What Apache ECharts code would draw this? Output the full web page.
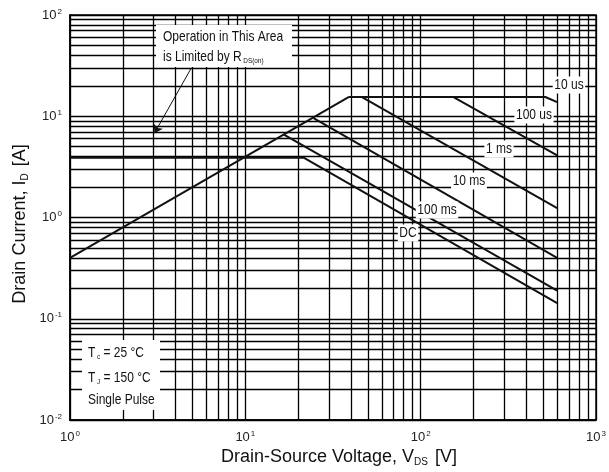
<!DOCTYPE html>
<html>
<head>
<meta charset="utf-8">
<script src="https://cdn.jsdelivr.net/npm/echarts@6/dist/echarts.min.js"></script>
<style>
  html, body { margin: 0; padding: 0; background: #fff; }
  #chart { width: 609px; height: 472px; }
</style>
</head>
<body>
<div id="chart"></div>
<script>
// safe operating area, V_DS [V] against I_D [A]
const rdsV = [1, 39];
const rdsI = [0.4, 15.5];
const us10V = [39, 514, 600];
const us10I = [15.5, 15.5, 13.8];
const us100V = [153, 600];
const us100I = [15.5, 4.1];
const ms1V = [46, 600];
const ms1I = [15.5, 1.24];
const ms10V = [24.5, 600];
const ms10I = [9.6, 0.4];
const ms100V = [16.6, 600];
const ms100I = [6.6, 0.19];
const dcV = [1, 21.5, 600];
const dcI = [3.9, 3.9, 0.143];

const xDecades = [1, 10, 100];
const yDecades = [0.01, 0.1, 1, 10];
const minorSteps = [2, 3, 4, 5, 6, 7, 8, 9];

const FONT = 'Liberation Sans, Arial, sans-serif';
const NARROW = 0.8; // no narrow font installed, squeeze the labels instead

function pairs(xs, ys) {
  return xs.map((x, i) => [x, ys[i]]);
}

// minor grid values 2..9 in every decade
var xMinor = [], yMinor = [];
xDecades.forEach(d => minorSteps.forEach(s => xMinor.push(+(d * s).toPrecision(3))));
yDecades.forEach(d => minorSteps.forEach(s => yMinor.push(+(d * s).toPrecision(3))));

var chart = echarts.init(document.getElementById('chart'));

function curve(name, xs, ys, extra) {
  var s = {
    name: name,
    type: 'line',
    data: pairs(xs, ys),
    symbol: 'none',
    lineStyle: { color: '#111', width: 2 },
    z: 5,
    silent: true,
  };
  return Object.assign(s, extra || {});
}

// narrow note text
function note(x, y, text, align) {
  return {
    type: 'text', x: x, y: y, z: 21, scaleX: NARROW,
    style: {
      text: text, font: '15px ' + FONT, fill: '#111',
      align: align || 'left', verticalAlign: 'middle',
      rich: { sub: { fontSize: 8, fontFamily: FONT, fill: '#111', padding: [8, 0, 0, 2] } },
    },
  };
}

function curveLabel(x, y, text) {
  var t = note(x, y, text, 'center');
  t.style.backgroundColor = '#fff';
  t.style.padding = [1, 2];
  return t;
}

var supLabel = {
  fontFamily: FONT,
  color: '#222',
  formatter: v => '{b|10}{s|' + Math.round(Math.log10(v)) + '}',
  rich: {
    b: { fontSize: 13, fontFamily: FONT, color: '#222' },
    s: { fontSize: 8, fontFamily: FONT, color: '#222', verticalAlign: 'top', padding: [0, 0, 7, 1] },
  },
};

var option = {
  animation: false,
  grid: {
    left: 70, right: 10, top: 15, bottom: 52,
    show: true, borderColor: '#000', borderWidth: 1.5,
  },
  xAxis: {
    type: 'log', logBase: 10, min: 1, max: 1000,
    axisLine: { lineStyle: { color: '#000', width: 1.5 } },
    axisTick: { show: false },
    splitLine: { show: true, lineStyle: { color: '#000', width: 1.3 } },
    axisLabel: Object.assign({ margin: 10 }, supLabel),
  },
  yAxis: {
    type: 'log', logBase: 10, min: 0.01, max: 100,
    axisLine: { lineStyle: { color: '#000', width: 1.5 } },
    axisTick: { show: false },
    splitLine: { show: true, lineStyle: { color: '#000', width: 1.3 } },
    axisLabel: Object.assign({ margin: 8 }, supLabel),
  },
  series: [
    {
      name: 'grid',
      type: 'line',
      data: [],
      silent: true,
      z: 1,
      markLine: {
        silent: true,
        symbol: ['none', 'none'],
        label: { show: false },
        lineStyle: { color: '#000', width: 1.3, type: 'solid' },
        data: xMinor.map(v => ({ xAxis: v })).concat(yMinor.map(v => ({ yAxis: v }))),
      },
    },
    curve('RDS(on)', rdsV, rdsI, {
      markLine: {
        silent: true,
        symbol: ['none', 'arrow'],
        symbolSize: 8,
        label: { show: false },
        lineStyle: { color: '#111', width: 1, type: 'solid' },
        data: [[{ coord: [4.92, 30] }, { coord: [3.03, 6.8] }]],
      },
    }),
    curve('10 us', us10V, us10I),
    curve('100 us', us100V, us100I),
    curve('1 ms', ms1V, ms1I),
    curve('10 ms', ms10V, ms10I),
    curve('100 ms', ms100V, ms100I),
    curve('DC', dcV, dcI),
  ],
  graphic: [
    // RDS(on) note
    { type: 'rect', shape: { x: 156, y: 25, width: 136, height: 42 }, style: { fill: '#fff' }, z: 20 },
    note(163, 37, 'Operation in This Area'),
    note(163, 57, 'is Limited by R{sub|DS(on)}'),
    // conditions
    { type: 'rect', shape: { x: 82, y: 340, width: 78, height: 70 }, style: { fill: '#fff' }, z: 20 },
    note(88, 353, 'T{sub|c} = 25 °C'),
    note(88, 378, 'T{sub|J} = 150 °C'),
    note(88, 400, 'Single Pulse'),
    // curve labels
    curveLabel(569, 85, '10 us'),
    curveLabel(534, 115, '100 us'),
    curveLabel(499, 149, '1 ms'),
    curveLabel(469, 181, '10 ms'),
    curveLabel(437, 210, '100 ms'),
    curveLabel(408, 233, 'DC'),
    // axis titles
    {
      type: 'text', x: 339, y: 457, z: 21,
      style: {
        text: 'Drain-Source Voltage, V{sub|DS} [V]', font: '18px ' + FONT, fill: '#111',
        align: 'center', verticalAlign: 'middle',
        rich: { sub: { fontSize: 10, fontFamily: FONT, fill: '#111', padding: [10, 2, 0, 0] } },
      },
    },
    {
      type: 'text', x: 20, y: 224, z: 21, rotation: Math.PI / 2,
      style: {
        text: 'Drain Current, I{sub|D} [A]', font: '18px ' + FONT, fill: '#111',
        align: 'center', verticalAlign: 'middle',
        rich: { sub: { fontSize: 10, fontFamily: FONT, fill: '#111', padding: [10, 2, 0, 0] } },
      },
    },
  ],
};

chart.setOption(option);
</script>
</body>
</html>
